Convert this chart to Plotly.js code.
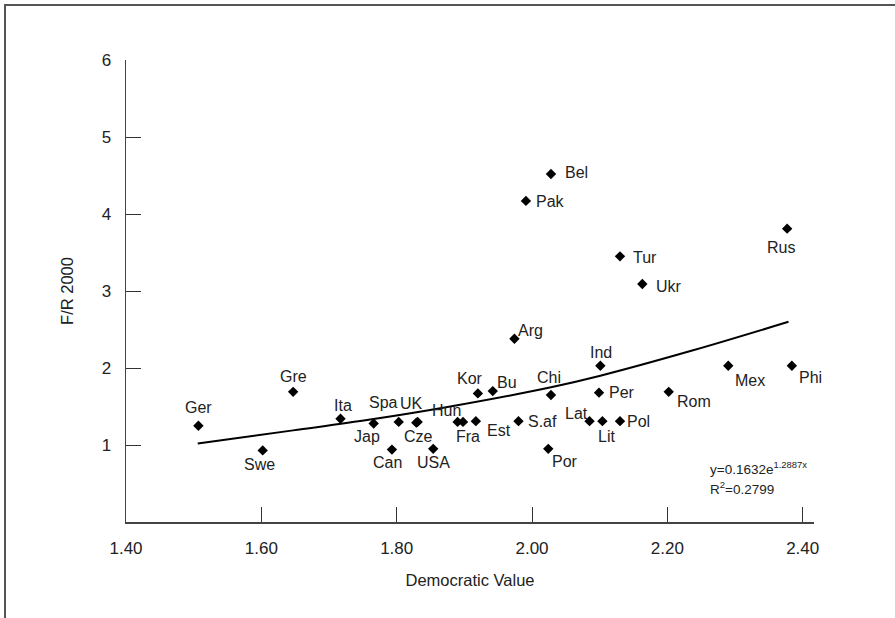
<!DOCTYPE html>
<html>
<head>
<meta charset="utf-8">
<script src="https://cdn.plot.ly/plotly-3.0.1.min.js"></script>
<style>
  html, body { margin: 0; padding: 0; background: #fff; }
  #wrap { position: relative; width: 895px; height: 618px; overflow: hidden; }
  #chart { position: absolute; left: 0; top: 0; width: 895px; height: 618px; }
  #frame { position: absolute; left: 4px; top: 4px; width: 1000px; height: 1000px;
           border-left: 2px solid #555; border-top: 2px solid #555; pointer-events: none; }
</style>
</head>
<body>
<div id="wrap">
  <div id="chart"></div>
  <div id="frame"></div>
</div>
<script>
// Country labels
const countries = ['Ger','Swe','Gre','Ita','Jap','Spa','UK','Cze','Can','USA','Hun','Fra','Est','Kor','Bu','Arg','S.af','Pak','Por','Bel','Chi','Lat','Per','Ind','Lit','Tur','Pol','Ukr','Rom','Mex','Rus','Phi'];
// Democratic Value (x)
const democraticValue = [1.507,1.602,1.647,1.717,1.766,1.803,1.831,1.829,1.793,1.854,1.890,1.898,1.917,1.920,1.942,1.974,1.980,1.991,2.024,2.028,2.028,2.085,2.099,2.101,2.104,2.130,2.130,2.163,2.202,2.290,2.377,2.384];
// F/R 2000 (y)
const fr2000 = [1.25,0.93,1.69,1.34,1.28,1.30,1.30,1.29,0.94,0.95,1.30,1.30,1.31,1.67,1.70,2.38,1.31,4.17,0.95,4.52,1.65,1.31,1.68,2.03,1.31,3.45,1.31,3.09,1.69,2.03,3.81,2.03];
// Trend line
const trendX = [1.506,1.647,1.761,1.873,2.028,2.101,2.238,2.379];
const trendY = [1.02,1.19,1.33,1.49,1.75,1.90,2.23,2.60];
// Tick values / labels
const xTickVals = [1.4,1.6,1.8,2.0,2.2,2.4];
const xTickText = ['1.40','1.60','1.80','2.00','2.20','2.40'];
const yTickVals = [1,2,3,4,5,6];
const yTickText = ['1','2','3','4','5','6'];
const equationText = 'y=0.1632e<sup>1.2887x</sup>';
const r2Text = 'R<sup>2</sup>=0.2799';

// label offsets in pixels (dx right, dy down) – layout only
const labelOffsets = {
  'Ger':[0,-18],'Swe':[-3,14],'Gre':[0,-15],'Ita':[2,-13],'Jap':[-7,13],'Spa':[-15,-19],'UK':[-6,-18],
  'Cze':[2,14],'Can':[-4,13],'USA':[0,14],'Hun':[-11,-11],'Fra':[5,15],'Est':[23,9],'Kor':[-8,-15],
  'Bu':[14,-9],'Arg':[16,-8],'S.af':[24,0],'Pak':[25,1],'Por':[17,13],'Bel':[26,-1],'Chi':[-2,-17],
  'Lat':[-13,-8],'Per':[23,0],'Ind':[1,-13],'Lit':[4,15],'Tur':[25,1],'Pol':[19,0],'Ukr':[27,2],
  'Rom':[25,10],'Mex':[22,15],'Rus':[-6,19],'Phi':[19,12]
};

const FONT = 'Liberation Sans, Arial, Helvetica, sans-serif';
const TXT = '#222';

const annotations = countries.map((c, i) => ({
  x: democraticValue[i], y: fr2000[i], xref: 'x', yref: 'y',
  text: c, showarrow: false,
  xshift: labelOffsets[c][0], yshift: -labelOffsets[c][1],
  font: {family: FONT, size: 16, color: TXT}
}));
annotations.push({
  xref: 'paper', yref: 'paper', x: 0.846, y: 0.117, xanchor: 'left', yanchor: 'middle',
  text: equationText, showarrow: false, font: {family: FONT, size: 13.5, color: TXT}
});
annotations.push({
  xref: 'paper', yref: 'paper', x: 0.846, y: 0.074, xanchor: 'left', yanchor: 'middle',
  text: r2Text, showarrow: false, font: {family: FONT, size: 13.5, color: TXT}
});

const traces = [
  {
    x: democraticValue, y: fr2000, type: 'scatter', mode: 'markers',
    marker: {symbol: 'diamond', size: 8, color: '#000'},
    hoverinfo: 'text', text: countries, showlegend: false
  },
  {
    x: trendX, y: trendY, type: 'scatter', mode: 'lines',
    line: {color: '#000', width: 2, shape: 'spline', smoothing: 1},
    hoverinfo: 'skip', showlegend: false
  }
];

const layout = {
  width: 895, height: 618,
  margin: {l: 126, r: 81, t: 60, b: 96, pad: 0},
  paper_bgcolor: '#fff', plot_bgcolor: '#fff',
  showlegend: false,
  font: {family: FONT, color: TXT, size: 16},
  xaxis: {
    range: [1.40, 2.4167], tickvals: xTickVals, ticktext: xTickText,
    ticks: 'inside', ticklen: 15, tickwidth: 1, tickcolor: '#333',
    showline: true, linecolor: '#444', linewidth: 1.5,
    showgrid: false, zeroline: false, fixedrange: true,
    tickfont: {family: FONT, size: 17, color: TXT},
    ticklabelstandoff: 10,
    title: {text: 'Democratic Value', font: {family: FONT, size: 16.5, color: TXT}, standoff: 17}
  },
  yaxis: {
    range: [0, 6], tickvals: yTickVals, ticktext: yTickText,
    ticks: 'inside', ticklen: 15, tickwidth: 1, tickcolor: '#333',
    showline: true, linecolor: '#444', linewidth: 1.5,
    showgrid: false, zeroline: false, fixedrange: true,
    tickfont: {family: FONT, size: 17, color: TXT},
    ticklabelstandoff: 10,
    title: {text: 'F/R 2000', font: {family: FONT, size: 16.5, color: TXT}, standoff: 24}
  },
  annotations: annotations
};

Plotly.newPlot('chart', traces, layout, {displayModeBar: false, staticPlot: true});
</script>
</body>
</html>
